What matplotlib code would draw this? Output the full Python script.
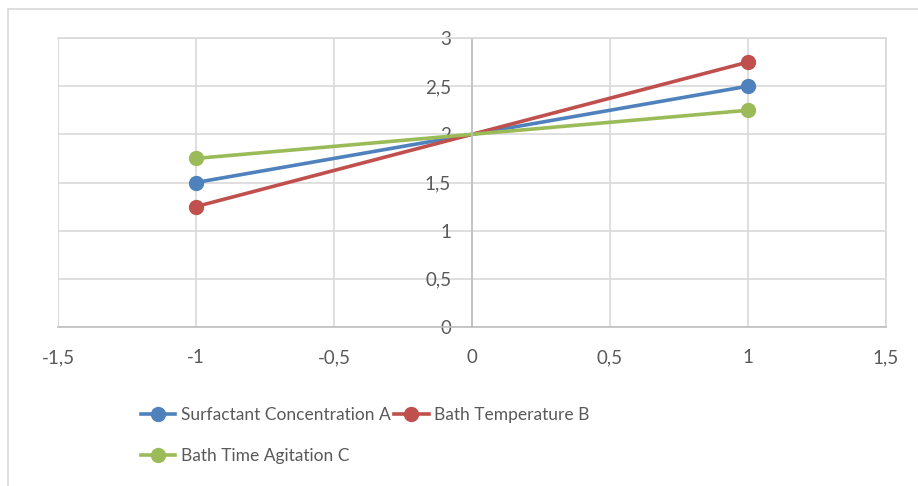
import matplotlib
matplotlib.use("Agg")
import matplotlib.pyplot as plt
from matplotlib.ticker import FuncFormatter, MultipleLocator
from matplotlib.lines import Line2D

levels = [-1, 1]
surfactant_a = [1.5, 2.5]
temperature_b = [1.25, 2.75]
agitation_c = [1.75, 2.25]
labels = ["Surfactant Concentration A", "Bath Temperature B", "Bath Time Agitation C"]

plt.rcParams["font.family"] = ["Lato", "DejaVu Sans"]
text_col = "#595959"
grid_col = "#d9d9d9"
axis_col = "#bfbfbf"

W, H = 918, 486
fig = plt.figure(figsize=(W / 100, H / 100), dpi=100)
# chart frame: only top and left edges are visible in the crop
fig.add_artist(Line2D([8 / W, 1], [1 - 9 / H, 1 - 9 / H], color=grid_col, linewidth=1.2))
fig.add_artist(Line2D([8 / W, 8 / W], [0, 1 - 9 / H], color=grid_col, linewidth=1.2))

ax = fig.add_axes([58 / W, 1 - 327 / H, (886 - 58) / W, (327 - 38) / H])

style = dict(linewidth=2.6, marker="o", markersize=10, clip_on=False)
h_a, = ax.plot(levels, surfactant_a, color="#4f81bd", label=labels[0], **style)
h_b, = ax.plot(levels, temperature_b, color="#c0504d", label=labels[1], **style)
h_c, = ax.plot(levels, agitation_c, color="#9bbb59", label=labels[2], **style)

ax.set_xlim(-1.5, 1.5)
ax.set_ylim(0, 3)
ax.xaxis.set_major_locator(MultipleLocator(0.5))
ax.yaxis.set_major_locator(MultipleLocator(0.5))
fmt = FuncFormatter(lambda v, p: f"{v:g}".replace(".", ","))
ax.xaxis.set_major_formatter(fmt)
ax.yaxis.set_major_formatter(fmt)

ax.grid(True, color=grid_col, linewidth=1.2)
ax.set_axisbelow(True)
for s in ["top", "right"]:
    ax.spines[s].set_color(grid_col)
    ax.spines[s].set_linewidth(1.2)
ax.spines["left"].set_position(("data", 0))
ax.spines["left"].set_color(axis_col)
ax.spines["left"].set_linewidth(1.2)
ax.spines["bottom"].set_color(axis_col)
ax.spines["bottom"].set_linewidth(1.2)
ax.axvline(-1.5, color=grid_col, linewidth=1.2, zorder=0)

ax.tick_params(axis="y", length=0, pad=15, labelsize=13.5, labelcolor=text_col)
ax.tick_params(axis="x", length=0, pad=16, labelsize=13.5, labelcolor=text_col)

fig.legend(handles=[h_a, h_c, h_b], ncol=2, loc="upper left",
           bbox_to_anchor=(125 / W, 1 - 391 / H), frameon=False,
           fontsize=12.5, labelcolor=text_col, handlelength=2.0,
           handletextpad=0.3, columnspacing=0.2, labelspacing=1.45)

fig.savefig("out.png", dpi=100)
